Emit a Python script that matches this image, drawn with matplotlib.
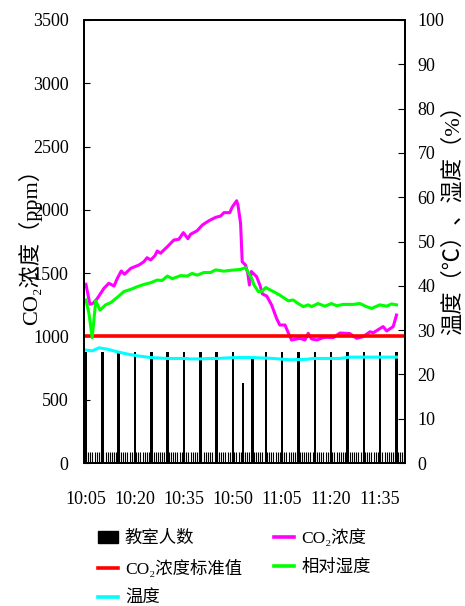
import matplotlib
matplotlib.use('Agg')
import matplotlib.pyplot as plt
import numpy as np
from matplotlib.patches import Patch
from matplotlib.lines import Line2D

plt.rcParams['font.family'] = ['Liberation Serif', 'Noto Sans CJK SC', 'DejaVu Sans']

# minutes after 10:05
tick_minutes = [0, 15, 30, 45, 60, 75, 90]
tick_labels = ['10:05', '10:20', '10:35', '10:50', '11:05', '11:20', '11:35']

people_t = [0, 5, 10, 15, 20, 25, 30, 35, 40, 45, 48, 51, 55, 60, 65, 70, 75, 80, 85, 90, 95]
people = [25, 25, 25, 25, 25, 25, 25, 25, 25, 25, 18, 24, 25, 25, 25, 25, 25, 25, 25, 25, 25]

co2_t = [0, 1.2, 2.2, 3.5, 5.5, 7.0, 8.6, 9.6, 10.8, 11.8, 13.7, 16.2, 17.7, 18.7, 19.8,
         21.1, 21.8, 22.8, 24.9, 26.9, 28.4, 29.8, 31.2, 32.0, 34.0, 35.6, 37.6, 39.7,
         41.2, 42.2, 44.0, 44.7, 46.1, 46.5, 47.3, 47.8, 48.8, 49.5, 50.0, 50.6, 52.2,
         53.2, 54.0, 55.3, 56.8, 58.3, 59.3, 60.9, 62.4, 62.9, 65.4, 67.0, 68.0, 69.0,
         70.6, 72.6, 73.6, 75.6, 77.7, 80.7, 82.8, 84.8, 86.9, 87.9, 90.9, 92.0, 94.0, 95.0]
co2 = [1412, 1254, 1262, 1301, 1380, 1420, 1398, 1459, 1517, 1491, 1538, 1564, 1590, 1622,
       1604, 1638, 1675, 1657, 1709, 1762, 1767, 1820, 1772, 1807, 1835, 1880, 1914, 1941,
       1951, 1978, 1978, 2020, 2072, 2038, 1894, 1590, 1564, 1499, 1406, 1513, 1472, 1406,
       1335, 1319, 1248, 1143, 1090, 1090, 998, 972, 985, 972, 1025, 980, 972, 990, 993,
       990, 1027, 1023, 985, 998, 1037, 1029, 1078, 1043, 1078, 1169]
co2_standard = 1000

hum_t = [0, 0.9, 1.9, 3.0, 4.3, 6.0, 7.6, 9.6, 11.6, 13.7, 15.7, 17.7, 19.8, 21.8, 23.3,
         24.9, 26.4, 29.0, 31.0, 32.5, 34.0, 36.1, 38.1, 39.7, 42.2, 44.3, 47.3, 48.8,
         50.7, 51.4, 52.7, 53.7, 55.0, 56.8, 59.3, 61.9, 63.4, 64.9, 66.5, 68.0, 69.0,
         71.0, 73.1, 75.1, 76.7, 78.7, 81.7, 83.8, 85.8, 87.4, 89.9, 92.0, 93.5, 95.0]
hum = [36.8, 33.8, 28.3, 36.6, 34.5, 35.7, 36.2, 37.4, 38.7, 39.2, 39.8, 40.3, 40.7, 41.3,
       41.2, 42.2, 41.6, 42.3, 42.2, 42.8, 42.4, 43.0, 43.0, 43.6, 43.3, 43.5, 43.7, 44.1,
       41.7, 40.2, 38.7, 38.7, 39.6, 38.9, 37.9, 36.6, 36.8, 36.0, 35.3, 35.7, 35.3, 36.0,
       35.4, 36.0, 35.5, 35.8, 35.8, 36.0, 35.3, 34.9, 35.7, 35.4, 35.9, 35.7]

temp_t = [0, 1.9, 4.0, 6.5, 9.6, 12.6, 15.7, 19.8, 24.9, 30.0, 32.0, 35.1, 37.6, 40.2,
          45.3, 50.9, 57.3, 62.4, 67.5, 69.5, 77.7, 80.7, 87.9, 95.0]
temp = [25.5, 25.3, 26.0, 25.7, 25.1, 24.6, 24.2, 23.8, 23.6, 23.6, 23.5, 23.5, 23.6, 23.6,
        23.8, 23.8, 23.6, 23.3, 23.4, 23.6, 23.6, 23.9, 23.9, 23.9]

fig = plt.figure(figsize=(4.65, 6.06), dpi=100)
ax = fig.add_axes([84/465, 1-463/606, 321/465, 443/606])
ax2 = ax.twinx()

ax2.bar(people_t, people, width=0.75, color='black', zorder=1)
ax.plot(co2_t, co2, color='#ff00ff', lw=2.2)
ax.axhline(co2_standard, color='#ff0000', lw=2.6)
ax2.plot(hum_t, hum, color='#00ff00', lw=2.2)
ax2.plot(temp_t, temp, color='#00ffff', lw=2.2)

ax.set_xlim(-0.6, 97.6)
ax.set_ylim(0, 3500)
ax2.set_ylim(0, 100)
ax.set_yticks(np.arange(0, 3501, 500))
ax2.set_yticks(np.arange(0, 101, 10))
ax.set_xticks(tick_minutes)
ax.set_xticklabels(tick_labels)
ax.set_xticks(np.arange(0, 97.6, 2/3), minor=True)

ax.tick_params(axis='x', which='both', direction='in', length=8, width=0.8, pad=20, labelsize=13)
ax.tick_params(axis='y', direction='in', length=4, pad=11, labelsize=13)
ax2.tick_params(axis='y', direction='in', length=5, pad=9, labelsize=13)
for a in (ax, ax2):
    for s in a.spines.values():
        s.set_linewidth(1.4)

ax.set_ylabel('CO₂浓度（ppm）', fontsize=16)
ax.yaxis.set_label_coords(-42/321, 0.5)
ax2.set_ylabel('温度（℃）、湿度（%）', fontsize=16, rotation=90)
ax2.yaxis.set_label_coords(1 + 38/321, 0.56)

handles = [Patch(color='black'),
           Line2D([], [], color='#ff0000', lw=2.6),
           Line2D([], [], color='#00ffff', lw=2.6),
           Line2D([], [], color='#ff00ff', lw=2.6),
           Line2D([], [], color='#00ff00', lw=2.6)]
labels = ['教室人数', 'CO₂浓度标准值', '温度', 'CO₂浓度', '相对湿度']
fig.legend(handles, labels, loc='upper left', bbox_to_anchor=(98/465, 1-529/606),
           ncol=2, frameon=False, fontsize=12.5, borderpad=0, borderaxespad=0,
           handlelength=1.15, handletextpad=0.4, columnspacing=1.85, labelspacing=0.74)

fig.savefig('out.png', dpi=100)
